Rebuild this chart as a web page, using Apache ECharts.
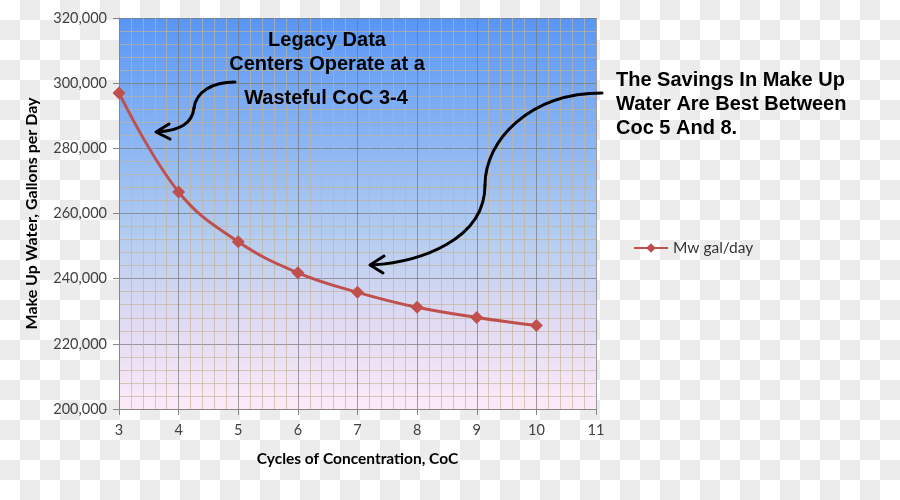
<!DOCTYPE html>
<html>
<head>
<meta charset="utf-8">
<script src="https://cdn.jsdelivr.net/npm/echarts@6/dist/echarts.min.js"></script>
<style>
html,body{margin:0;padding:0;}
body{width:900px;height:500px;background:#fff repeating-conic-gradient(#ececec 0 25%, #ffffff 0 50%) 0 0/40px 40px;}
#c{width:900px;height:500px;}
</style>
</head>
<body>
<div id="c"></div>
<script>
var cycles = [3, 4, 5, 6, 7, 8, 9, 10];
var makeUpWater = [297000, 266600, 251300, 241800, 235800, 231200, 228100, 225600];
var seriesName = 'Mw gal/day';
var yTitle = 'Make Up Water, Gallons per Day';
var xTitle = 'Cycles of Concentration, CoC';
var noteLeft = ['Legacy Data', 'Centers Operate at a'];
var noteLeft2 = 'Wasteful CoC 3-4';
var noteRight = ['The Savings In Make Up', 'Water Are Best Between', 'Coc 5 And 8.'];

var chart = echarts.init(document.getElementById('c'));
var labelFont = {fontFamily: 'Lato', fontSize: 14.5, color: '#404040'};
var noteFont = 'bold 20px "Liberation Sans", Arial, sans-serif';
var arrowStyle = {stroke: '#000', lineWidth: 3, fill: null, lineCap: 'round', lineJoin: 'round'};

function txt(t, x, y, align) {
  return {type: 'text', z: 100, style: {text: t, font: noteFont, fill: '#000', textAlign: align, textVerticalAlign: 'middle', x: x, y: y}};
}
function bez(s) {
  return {type: 'bezierCurve', z: 90, shape: s, style: arrowStyle};
}
function head(pts) {
  return {type: 'polyline', z: 90, shape: {points: pts}, style: arrowStyle};
}

chart.setOption({
  backgroundColor: 'transparent',
  animation: false,
  grid: {
    left: 119, right: 304, top: 18, bottom: 91,
    show: true, borderWidth: 0,
    backgroundColor: new echarts.graphic.LinearGradient(0, 0, 0, 1, [
      {offset: 0, color: '#5896f5'},
      {offset: 0.55, color: '#b2ccf0'},
      {offset: 0.75, color: '#dcd9f2'},
      {offset: 1, color: '#fdeaf8'}
    ])
  },
  legend: {
    left: 628, top: 235,
    itemWidth: 34, itemHeight: 12, itemGap: 6,
    textStyle: {fontFamily: 'Lato', fontSize: 15.5, color: '#333'},
    data: [seriesName]
  },
  xAxis: {
    type: 'value', min: 3, max: 11, interval: 1,
    name: xTitle, nameLocation: 'middle', nameGap: 42,
    nameTextStyle: {fontFamily: 'Lato', fontSize: 15.5, fontWeight: 'bold', color: '#000'},
    axisLine: {show: true, lineStyle: {color: '#868686', width: 1}},
    axisTick: {show: true, length: 6, lineStyle: {color: '#868686'}},
    axisLabel: Object.assign({margin: 14}, labelFont),
    splitLine: {show: true, lineStyle: {color: 'rgba(120,120,120,0.7)', width: 1}},
    minorTick: {show: false, splitNumber: 5},
    minorSplitLine: {show: true, lineStyle: {color: 'rgba(196,178,150,0.65)', width: 1}}
  },
  yAxis: {
    type: 'value', min: 200000, max: 320000, interval: 20000,
    name: yTitle, nameLocation: 'middle', nameGap: 79, nameRotate: 90,
    nameTextStyle: {fontFamily: 'Lato', fontSize: 16, fontWeight: 'bold', color: '#000'},
    axisLine: {show: true, lineStyle: {color: '#868686', width: 1}},
    axisTick: {show: true, length: 6, lineStyle: {color: '#868686'}},
    axisLabel: Object.assign({margin: 12, formatter: function (v) { return v.toLocaleString('en-US'); }}, labelFont),
    splitLine: {show: true, lineStyle: {color: 'rgba(120,120,120,0.7)', width: 1}},
    minorTick: {show: false, splitNumber: 5},
    minorSplitLine: {show: true, lineStyle: {color: 'rgba(196,178,150,0.65)', width: 1}}
  },
  series: [{
    name: seriesName,
    type: 'line',
    smooth: 0.4,
    data: cycles.map(function (c, i) { return [c, makeUpWater[i]]; }),
    symbol: 'diamond', symbolSize: 13,
    lineStyle: {color: '#c0504d', width: 3},
    itemStyle: {color: '#c0504d'},
    z: 5
  }],
  graphic: [
    txt(noteLeft[0], 327, 40, 'center'),
    txt(noteLeft[1], 327, 64, 'center'),
    txt(noteLeft2, 326, 98, 'center'),
    txt(noteRight[0], 616, 80, 'left'),
    txt(noteRight[1], 616, 104, 'left'),
    txt(noteRight[2], 616, 128, 'left'),
    bez({x1: 235, y1: 82, cpx1: 212, cpy1: 82, cpx2: 196, cpy2: 92, x2: 194, y2: 108}),
    bez({x1: 194, y1: 108, cpx1: 192, cpy1: 124, cpx2: 180, cpy2: 130, x2: 158, y2: 132}),
    head([[169, 124], [156, 132], [170, 139]]),
    bez({x1: 602, y1: 93, cpx1: 530, cpy1: 93, cpx2: 485, cpy2: 140, x2: 485, y2: 185}),
    bez({x1: 485, y1: 185, cpx1: 485, cpy1: 240, cpx2: 420, cpy2: 262, x2: 372, y2: 265}),
    head([[384, 256], [370, 265], [383, 273]])
  ]
});
</script>
</body>
</html>
